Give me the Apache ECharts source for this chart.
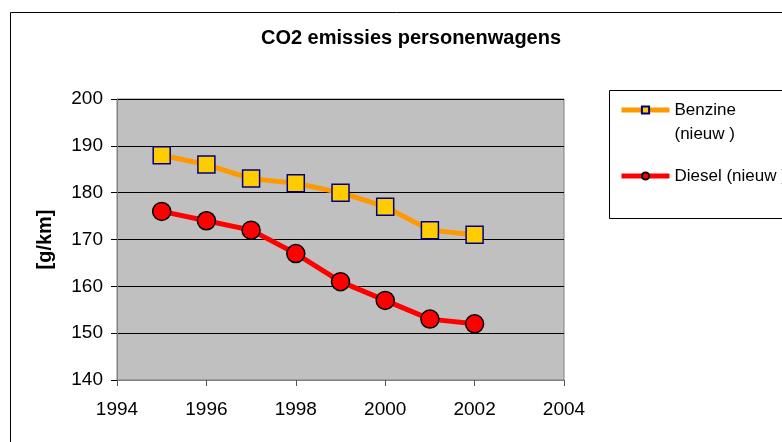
<!DOCTYPE html>
<html lang="nl">
<head>
    <meta charset="UTF-8">
    <title>CO2 emissies personenwagens</title>
    <script src="https://cdn.jsdelivr.net/npm/echarts@6/dist/echarts.min.js"></script>
    <style>
        html, body { margin: 0; padding: 0; background: #fff; }
        #main { width: 782px; height: 442px; }
    </style>
</head>
<body>
<div id="main"></div>
<script type="text/javascript">
    var jaren = [1995, 1996, 1997, 1998, 1999, 2000, 2001, 2002];
    var benzine = [188, 186, 183, 182, 180, 177, 172, 171];
    var diesel = [176, 174, 172, 167, 161, 157, 153, 152];

    function paren(xs, ys) {
        return xs.map(function (x, i) { return [x, ys[i]]; });
    }

    var font = 'Liberation Sans, Arial, sans-serif';
    var myChart = echarts.init(document.getElementById('main'));
    var legendBasis = {
        left: 619,
        padding: 0,
        itemWidth: 48,
        itemHeight: 9,
        lineStyle: { width: 5 },
        textStyle: { fontFamily: font, fontSize: 17, color: '#000', lineHeight: 24 }
    };
    var option = {
        animation: false,
        title: {
            text: 'CO2 emissies personenwagens',
            left: 406,
            top: 23,
            textAlign: 'center',
            textStyle: { fontFamily: font, fontSize: 20, fontWeight: 'bold', color: '#000' }
        },
        graphic: [
            {
                type: 'rect',
                shape: { x: 10.5, y: 12.5, width: 800, height: 500 },
                style: { fill: 'none', stroke: '#000', lineWidth: 1 },
                silent: true
            },
            {
                type: 'rect',
                shape: { x: 609.5, y: 90.5, width: 200, height: 128 },
                style: { fill: 'none', stroke: '#000', lineWidth: 1 },
                silent: true
            }
        ],
        legend: [
            Object.assign({}, legendBasis, {
                data: ['Benzine (nieuw )'],
                top: 74,
                formatter: function () { return '\nBenzine\n(nieuw )'; }
            }),
            Object.assign({}, legendBasis, {
                data: ['Diesel (nieuw )'],
                top: 164
            })
        ],
        grid: {
            left: 117,
            top: 99,
            right: 218,
            bottom: 62,
            show: true,
            backgroundColor: '#C0C0C0',
            borderColor: '#808080',
            borderWidth: 1
        },
        xAxis: {
            type: 'value',
            min: 1994,
            max: 2004,
            interval: 2,
            axisLine: { lineStyle: { color: '#808080', width: 1 } },
            axisTick: { show: true, inside: false, length: 6, lineStyle: { color: '#555' } },
            axisLabel: {
                margin: 20, fontFamily: font, fontSize: 19, color: '#000',
                formatter: function (v) { return String(v); }
            },
            splitLine: { show: false }
        },
        yAxis: {
            type: 'value',
            min: 140,
            max: 200,
            interval: 10,
            name: '[g/km]',
            nameLocation: 'middle',
            nameRotate: 90,
            nameGap: 62,
            nameTextStyle: { fontFamily: font, fontSize: 20, fontWeight: 'bold', color: '#000' },
            axisLine: { show: true, lineStyle: { color: '#808080', width: 1 } },
            axisTick: { show: true, inside: false, length: 6, lineStyle: { color: '#000' } },
            axisLabel: { margin: 14, fontFamily: font, fontSize: 19, color: '#000' },
            splitLine: { show: true, lineStyle: { color: '#000', width: 1 } }
        },
        series: [
            {
                name: 'Benzine (nieuw )',
                type: 'line',
                data: paren(jaren, benzine),
                symbol: 'rect',
                symbolSize: 17,
                lineStyle: { color: '#FF9900', width: 5 },
                itemStyle: { color: '#FFCC00', borderColor: '#000080', borderWidth: 1.5 }
            },
            {
                name: 'Diesel (nieuw )',
                type: 'line',
                data: paren(jaren, diesel),
                symbol: 'circle',
                symbolSize: 18,
                lineStyle: { color: '#FF0000', width: 5 },
                itemStyle: { color: '#FF0000', borderColor: '#000', borderWidth: 1.5 }
            }
        ]
    };
    myChart.setOption(option);
</script>
</body>
</html>
